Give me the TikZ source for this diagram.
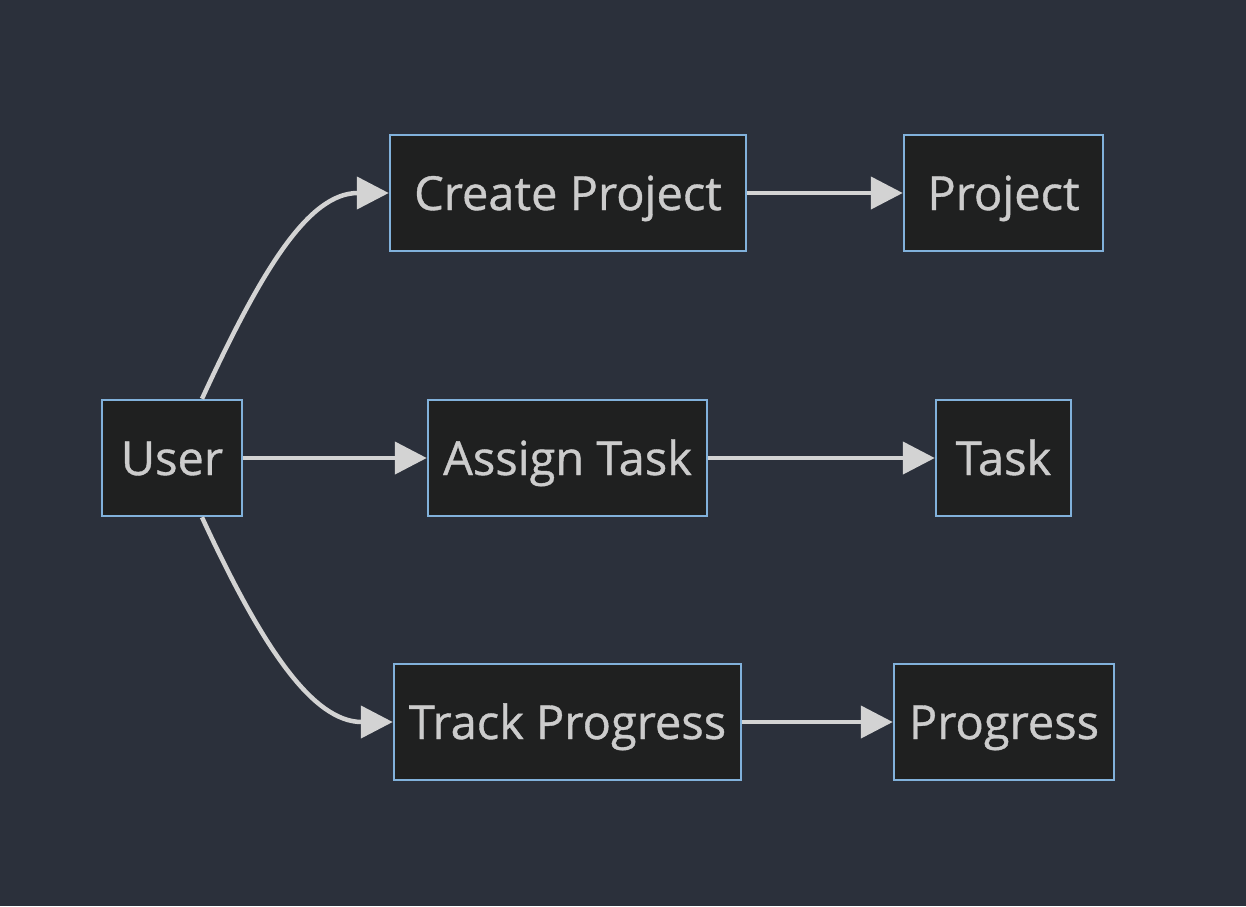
\documentclass[tikz,border=0pt]{standalone}
\usepackage{fontspec}
\newfontfamily\nodefont{Open Sans}[FakeBold=0.8]
\usetikzlibrary{arrows.meta,calc}
\definecolor{bgc}{RGB}{43,48,59}
\definecolor{nodefill}{RGB}{31,32,32}
\definecolor{nodeborder}{RGB}{129,177,219}
\definecolor{edgec}{RGB}{211,211,211}
\definecolor{txtc}{RGB}{204,204,204}
\begin{document}
\begin{tikzpicture}[x=1pt,y=-1pt,
  box/.style={draw=nodeborder,fill=nodefill,line width=2.5pt,minimum height=116pt,inner sep=0pt,text=txtc,font=\nodefont\fontsize{47}{52}\selectfont,text height=34pt,text depth=0pt},
  conn/.style={draw=edgec,line width=4.5pt,-{Triangle[length=32pt,width=32pt]}}]
\fill[bgc] (0,0) rectangle (1246,906);
\useasboundingbox (0,0) rectangle (1246,906);
\node[box,minimum width=140pt] (U) at (172,458) {User};
\node[box,minimum width=356pt] (CP) at (568,193) {Create Project};
\node[box,minimum width=199pt] (P) at (1003.5,193) {Project};
\node[box,minimum width=279pt] (AT) at (567.5,458) {Assign Task};
\node[box,minimum width=135pt] (T) at (1003.5,458) {Task};
\node[box,minimum width=347pt] (TP) at (567.5,722) {Track Progress};
\node[box,minimum width=220pt] (PR) at (1004,722) {Progress};
\draw[conn] ($(U.north)+(30,0)$) .. controls ($(U.north)+(90,-130)$) and ($(CP.west)+(-80,0)$) .. (CP.west);
\draw[conn] (U.east) -- (AT.west);
\draw[conn] ($(U.south)+(30,0)$) .. controls ($(U.south)+(90,130)$) and ($(TP.west)+(-80,0)$) .. (TP.west);
\draw[conn] (CP.east) -- (P.west);
\draw[conn] (AT.east) -- (T.west);
\draw[conn] (TP.east) -- (PR.west);
\end{tikzpicture}
\end{document}
